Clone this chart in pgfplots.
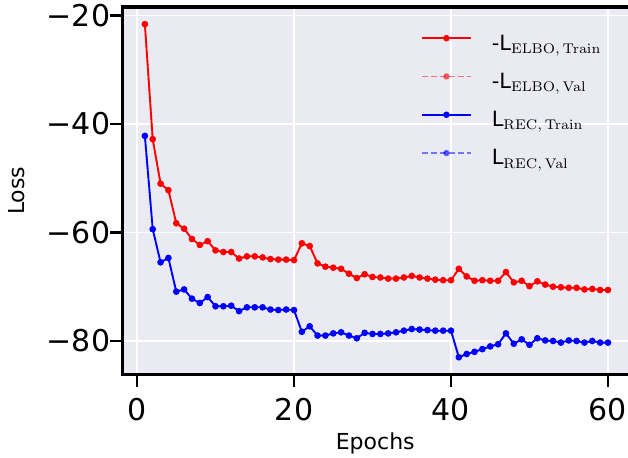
\documentclass[border=0pt]{standalone}
\usepackage[no-math]{fontspec}
\setmainfont{DejaVu Sans}
\usepackage{pgfplots}
\pgfplotsset{compat=1.18}
\usepackage{pgfplotstable}
\definecolor{bg}{HTML}{EAEAF2}

\pgfplotstableread{
ep elbo rec
1 -21.6 -42.2
2 -42.8 -59.4
3 -51.0 -65.5
4 -52.2 -64.7
5 -58.3 -70.9
6 -59.3 -70.5
7 -61.2 -72.2
8 -62.3 -73.0
9 -61.6 -71.9
10 -63.3 -73.6
11 -63.6 -73.6
12 -63.6 -73.5
13 -64.8 -74.5
14 -64.4 -73.8
15 -64.4 -73.8
16 -64.6 -73.8
17 -64.9 -74.2
18 -65.0 -74.3
19 -65.0 -74.2
20 -65.1 -74.3
21 -62.0 -78.3
22 -62.5 -77.3
23 -65.7 -79.0
24 -66.3 -79.0
25 -66.5 -78.6
26 -66.7 -78.4
27 -67.6 -79.0
28 -68.4 -79.5
29 -67.7 -78.5
30 -68.2 -78.7
31 -68.3 -78.7
32 -68.5 -78.6
33 -68.5 -78.4
34 -68.3 -78.1
35 -68.0 -77.8
36 -68.3 -77.9
37 -68.5 -78.0
38 -68.7 -78.1
39 -68.8 -78.1
40 -68.8 -78.1
41 -66.7 -83.0
42 -68.1 -82.4
43 -68.9 -82.0
44 -68.8 -81.5
45 -68.9 -81.0
46 -68.9 -80.6
47 -67.3 -78.6
48 -69.2 -80.5
49 -68.9 -79.7
50 -69.9 -80.7
51 -69.0 -79.5
52 -69.6 -79.9
53 -70.0 -80.0
54 -70.1 -80.3
55 -70.2 -79.9
56 -70.2 -80.0
57 -70.5 -80.3
58 -70.4 -80.0
59 -70.6 -80.3
60 -70.6 -80.3
}\train

\pgfplotstableread{
ep elbo rec
1 -21.6 -42.2
2 -42.8 -59.4
3 -51.0 -65.5
4 -52.2 -64.7
5 -58.3 -70.9
6 -59.3 -70.5
7 -61.2 -72.2
8 -62.3 -73.0
9 -61.6 -71.9
10 -63.3 -73.6
11 -63.6 -73.6
12 -63.6 -73.5
13 -64.8 -74.5
14 -64.4 -73.8
15 -64.4 -73.8
16 -64.6 -73.8
17 -64.9 -74.2
18 -65.0 -74.3
19 -65.0 -74.2
20 -65.1 -74.3
21 -62.0 -78.3
22 -62.5 -77.3
23 -65.7 -79.0
24 -66.3 -79.0
25 -66.5 -78.6
26 -66.7 -78.4
27 -67.6 -79.0
28 -68.4 -79.5
29 -67.7 -78.5
30 -68.2 -78.7
31 -68.3 -78.7
32 -68.5 -78.6
33 -68.5 -78.4
34 -68.3 -78.1
35 -68.0 -77.8
36 -68.3 -77.9
37 -68.5 -78.0
38 -68.7 -78.1
39 -68.8 -78.1
40 -68.8 -78.1
41 -66.7 -83.0
42 -68.1 -82.4
43 -68.9 -82.0
44 -68.8 -81.5
45 -68.9 -81.0
46 -68.9 -80.6
47 -67.3 -78.6
48 -69.2 -80.5
49 -68.9 -79.7
50 -69.9 -80.7
51 -69.0 -79.5
52 -69.6 -79.9
53 -70.0 -80.0
54 -70.1 -80.3
55 -70.2 -79.9
56 -70.2 -80.0
57 -70.5 -80.3
58 -70.4 -80.0
59 -70.6 -80.3
60 -70.6 -80.3
}\val

\begin{document}
\begin{tikzpicture}
\begin{axis}[
  at={(0,0)}, anchor=south west,
  scale only axis, width=252.75pt, height=183.75pt,
  xmin=-1.85, xmax=62.55, ymin=-86.18, ymax=-18.44,
  xtick={0,20,40,60}, xticklabels={0,20,40,60},
  ytick={-80,-60,-40,-20}, yticklabels={−80,−60,−40,−20},
  grid=major, major grid style={white, line width=0.7pt},
  axis background/.style={fill=bg},
  axis line style={draw=none},
  tick align=outside, tick pos=left,
  major tick length=6pt,
  every tick/.style={black, line width=1.1pt},
  tick label style={font=\fontsize{15}{18}\selectfont},
  xticklabel style={anchor=north, inner sep=0pt, yshift=-5.5pt},
  yticklabel style={anchor=east, inner sep=0pt},
  xlabel={Epochs}, ylabel={Loss},
  label style={font=\fontsize{11}{13}\selectfont},
  xlabel style={at={([yshift=-37.25pt]axis description cs:0.5,0)}, anchor=base, inner sep=0pt},
  ylabel style={at={([xshift=-48.75pt]axis description cs:0,0.5)}, rotate=0, anchor=base, inner sep=0pt},
  clip=false,
  legend style={at={([xshift=149.25pt,yshift=-11.5pt]axis description cs:0,1)}, anchor=north west,
    draw=none, fill=none, inner sep=0pt, outer sep=0pt, row sep=0pt, column sep=10pt,
    font=\fontsize{10.5}{12}\selectfont,
    nodes={inner sep=0pt, text height=10pt, text depth=9.15pt}},
  legend cell align=left,
  legend image code/.code={\draw[mark repeat=2,mark phase=2,#1] plot coordinates {(0pt,5.5pt) (12.25pt,5.5pt) (24.5pt,5.5pt)};},
]
\addplot[red, line width=0.9pt, mark=*, mark size=1.15pt] table[x=ep,y=elbo] {\train};
\addlegendentry{-L$_{\mathrm{ELBO,\,Train}}$}
\addplot[red, opacity=0.5, line width=0.9pt, dash pattern=on 3pt off 1.5pt, mark=*, mark size=1.15pt, mark options={solid}] table[x=ep,y=elbo] {\val};
\addlegendentry{-L$_{\mathrm{ELBO,\,Val}}$}
\addplot[blue, line width=0.9pt, mark=*, mark size=1.15pt] table[x=ep,y=rec] {\train};
\addlegendentry{L$_{\mathrm{REC,\,Train}}$}
\addplot[blue, opacity=0.5, line width=0.9pt, dash pattern=on 3pt off 1.5pt, mark=*, mark size=1.15pt, mark options={solid}] table[x=ep,y=rec] {\val};
\addlegendentry{L$_{\mathrm{REC,\,Val}}$}
\draw[black, line width=1.6pt] (rel axis cs:1,1) -- (rel axis cs:0,1) -- (rel axis cs:0,0) -- (rel axis cs:1,0);
\end{axis}
\pgfresetboundingbox
\path[use as bounding box] (-61.25pt,-41.25pt) rectangle (252.75pt,187.25pt);
\end{tikzpicture}
\end{document}
